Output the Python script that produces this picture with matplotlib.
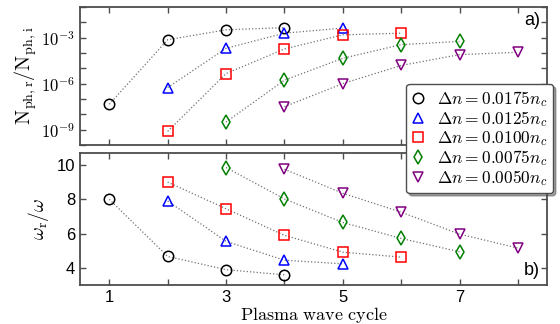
import matplotlib
matplotlib.use('Agg')
import matplotlib.pyplot as plt
import matplotlib.ticker as mticker
import numpy as np

plt.rcParams['font.family'] = ['Liberation Sans', 'DejaVu Sans']
plt.rcParams['mathtext.fontset'] = 'cm'

# Dados
cycles = [
    [1, 2, 3, 4],
    [2, 3, 4, 5],
    [2, 3, 4, 5, 6],
    [3, 4, 5, 6, 7],
    [4, 5, 6, 7, 8],
]
# log10(N_ph,r / N_ph,i)
log_ratio = [
    [-7.34, -3.13, -2.48, -2.34],
    [-6.25, -3.69, -2.70, -2.37],
    [-9.11, -5.34, -3.73, -2.81, -2.70],
    [-8.50, -5.77, -4.34, -3.45, -3.24],
    [-7.50, -5.99, -4.81, -4.10, -3.95],
]
# omega_r / omega
freq = [
    [8.0, 4.67, 3.9, 3.6],
    [7.9, 5.55, 4.45, 4.24],
    [9.0, 7.45, 5.9, 4.92, 4.63],
    [9.85, 8.02, 6.65, 5.72, 4.94],
    [9.75, 8.35, 7.25, 5.97, 5.16],
]
labels = [r'$\Delta n = 0.0175n_c$', r'$\Delta n = 0.0125n_c$',
          r'$\Delta n = 0.0100n_c$', r'$\Delta n = 0.0075n_c$',
          r'$\Delta n = 0.0050n_c$']
markers = ['o', '^', 's', 'd', 'v']
colors = ['black', 'blue', 'red', 'green', 'purple']

fig = plt.figure(figsize=(5.6, 3.24), dpi=100)
ax1 = fig.add_axes([0.143, 0.5525, 0.834, 0.4255])
ax2 = fig.add_axes([0.143, 0.120, 0.834, 0.408])

handles = []
for i in range(5):
    x = np.array(cycles[i])
    ax1.plot(x, 10.0 ** np.array(log_ratio[i]), ':', color='0.45', lw=0.9, zorder=1)
    h, = ax1.plot(x, 10.0 ** np.array(log_ratio[i]), linestyle='none', marker=markers[i],
                  ms=7.5, mfc='none', mec=colors[i], mew=1.1, zorder=2)
    handles.append(h)
    ax2.plot(x, freq[i], ':', color='0.45', lw=0.9, zorder=1)
    ax2.plot(x, freq[i], linestyle='none', marker=markers[i],
             ms=7.5, mfc='none', mec=colors[i], mew=1.1, zorder=2)

ax1.set_yscale('log')
ax1.set_ylim(1e-10, 1e-1)
ax1.yaxis.set_major_locator(mticker.FixedLocator([10.0 ** k for k in range(-10, 0)]))
ax1.yaxis.set_minor_locator(mticker.NullLocator())
ax1.yaxis.set_major_formatter(mticker.FuncFormatter(
    lambda v, p: r'$10^{%d}$' % round(np.log10(v)) if round(np.log10(v)) in (-3, -6, -9) else ''))
ax1.set_xticklabels([])

ax2.set_ylim(3, 10.7)
ax2.set_yticks([4, 6, 8, 10])

for ax in (ax1, ax2):
    ax.set_xlim(0.5, 8.5)
    ax.set_xticks(range(1, 9))
    ax.tick_params(direction='in', top=True, right=True, length=4, width=1,
                   color='0.3', labelsize=12)
    for s in ax.spines.values():
        s.set_color('0.3')
        s.set_linewidth(1.3)

ax2.set_xticklabels(['1', '', '3', '', '5', '', '7', ''])

ax1.set_ylabel(r'$\mathrm{N_{ph,r}/N_{ph,i}}$', fontsize=14.5, labelpad=2)
ax2.set_ylabel(r'$\omega_\mathrm{r}/\omega$', fontsize=14, labelpad=4)
ax2.set_xlabel(r'$\mathrm{Plasma\ wave\ cycle}$', fontsize=13, labelpad=0)

ax1.text(0.985, 0.90, 'a)', transform=ax1.transAxes, ha='right', va='center', fontsize=13)
ax2.text(0.985, 0.11, 'b)', transform=ax2.transAxes, ha='right', va='center', fontsize=13)

leg = fig.legend(handles, labels, loc='upper right', bbox_to_anchor=(0.9875, 0.741),
                 fontsize=12.5, fancybox=True, shadow=True,
                 framealpha=1, edgecolor='0.3', borderaxespad=0, handlelength=0.8,
                 handletextpad=0.7, labelspacing=0.0, borderpad=0.3)
leg.set_zorder(10)

fig.savefig('out.png', dpi=100)
